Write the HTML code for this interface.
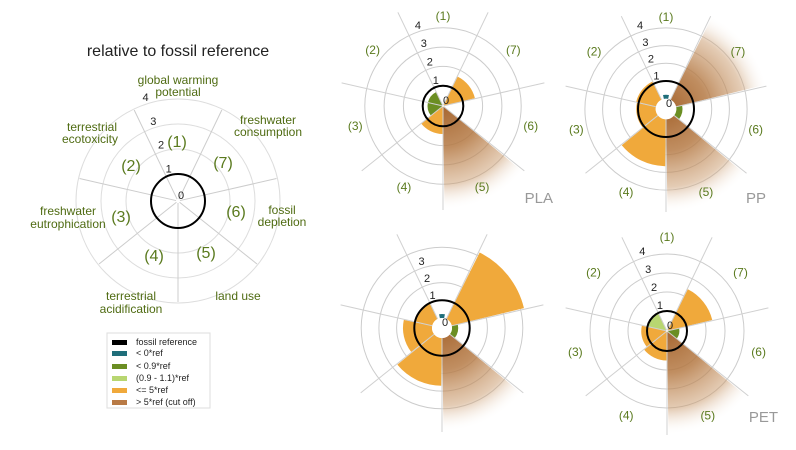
<!DOCTYPE html>
<html><head><meta charset="utf-8"><style>
body{margin:0;background:#fff;width:796px;height:450px;overflow:hidden}
svg{display:block;font-family:"Liberation Sans","DejaVu Sans",sans-serif}
</style></head><body>
<svg id="s" width="796" height="450" viewBox="0 0 796 450" xmlns="http://www.w3.org/2000/svg">
<defs></defs>
<g id="bg"></g>
<g fill="#4f6b12" font-size="12" text-anchor="middle">
<text x="178" y="56" font-size="16" fill="#222">relative to fossil reference</text>
<text x="178" y="84">global warming</text><text x="178" y="96">potential</text>
<text x="268" y="124">freshwater</text><text x="268" y="136">consumption</text>
<text x="92" y="131">terrestrial</text><text x="90" y="143">ecotoxicity</text>
<text x="68" y="215">freshwater</text><text x="68" y="228">eutrophication</text>
<text x="282" y="214">fossil</text><text x="282" y="226">depletion</text>
<text x="131" y="300">terrestrial</text><text x="131" y="313">acidification</text>
<text x="238" y="300">land use</text>
</g>
<g fill="#5a7a1e" font-size="16" text-anchor="middle">
<text x="177" y="147">(1)</text><text x="131" y="171">(2)</text><text x="121" y="222">(3)</text>
<text x="154" y="261">(4)</text><text x="206" y="258">(5)</text><text x="236" y="217">(6)</text><text x="223" y="168">(7)</text>
</g>
<g fill="#999" font-size="15" text-anchor="end">
<text x="553" y="203">PLA</text><text x="766" y="203">PP</text><text x="778" y="422">PET</text>
</g>
<g font-size="9" fill="#222">
<rect x="107" y="333" width="103" height="75" fill="#fff" stroke="#ddd"/>
<rect x="112" y="340" width="15" height="5" fill="#000"/><text x="136" y="345">fossil reference</text>
<rect x="112" y="351" width="15" height="5" fill="#1f6e7a"/><text x="136" y="356">&lt; 0*ref</text>
<rect x="112" y="364" width="15" height="5" fill="#6b8e23"/><text x="136" y="369">&lt; 0.9*ref</text>
<rect x="112" y="376" width="15" height="5" fill="#b8d671"/><text x="136" y="381">(0.9 - 1.1)*ref</text>
<rect x="112" y="388" width="15" height="5" fill="#f0a93b"/><text x="136" y="393">&lt;= 5*ref</text>
<rect x="112" y="400" width="15" height="5" fill="#b87a45"/><text x="136" y="405">&gt; 5*ref (cut off)</text>
</g>
<g id="fg"></g>
</svg>
<script>
var NS="http://www.w3.org/2000/svg",bg=document.getElementById('bg'),fg=document.getElementById('fg'),defs=document.querySelector('defs');
function el(p,t,a,txt){var e=document.createElementNS(NS,t);for(var k in a)e.setAttribute(k,a[k]);if(txt!=null)e.textContent=txt;p.appendChild(e);return e;}
var D=Math.PI/180,S=360/7;
function pt(cx,cy,r,a){return [cx+r*Math.sin(a*D),cy-r*Math.cos(a*D)];}
function sector(cx,cy,r0,r1,a0,a1){var p0=pt(cx,cy,r1,a0),p1=pt(cx,cy,r1,a1),q1=pt(cx,cy,r0,a1),q0=pt(cx,cy,r0,a0);
 return "M"+p0+" A"+r1+","+r1+" 0 0 1 "+p1+" L"+q1+(r0>0?" A"+r0+","+r0+" 0 0 0 "+q0:" L"+q0)+"Z";}
var COL={o:"#f0a93b",g:"#6b8e23",l:"#b8d671",t:"#1f6e7a"};
function ca(k){return -(k-1)*S;}
var P=[
 {cx:178,cy:201,h:2,u:25,sp:101,ticks:[0,1,2,3,4],bars:{},nums:false},
 {cx:443,cy:106,h:1,u:19.3,sp:104,ticks:[0,1,2,3,4],bars:{2:['g',.75],3:['g',.75],4:['o',1.4],5:['c'],7:['o',1.65]},nums:90},
 {cx:666,cy:109,h:10.3,u:17.7,sp:103,ticks:[0,1,2,3,4],bars:{1:['t',.25],2:['o',1.15],3:['o',1.1],4:['o',2.65],5:['c'],6:['g',.35],7:['c']},nums:92},
 {cx:442,cy:328,h:10,u:17.7,sp:104,ticks:[0,1,2,3],bars:{1:['t',.25],2:['o',1.05],3:['o',1.64],4:['o',2.7],5:['c'],6:['g',.35],7:['o',4.2]},nums:false},
 {cx:667,cy:331,h:1,u:19,sp:104,ticks:[0,1,2,3,4],bars:{2:['l',1],3:['o',1.3],4:['o',1.5],5:['c'],6:['g',.6],7:['o',2.4]},nums:94}
];
P.forEach(function(p,i){
 var g=el(defs,'radialGradient',{id:'gr'+i,gradientUnits:'userSpaceOnUse',cx:p.cx,cy:p.cy,r:104});
 el(g,'stop',{offset:0,'stop-color':'#a66630','stop-opacity':1});
 el(g,'stop',{offset:.4,'stop-color':'#b57a45','stop-opacity':.85});
 el(g,'stop',{offset:.75,'stop-color':'#c9996b','stop-opacity':.5});
 el(g,'stop',{offset:1,'stop-color':'#fff','stop-opacity':0});
 var lc=i==0?'#ddd':'#ccc';
 for(var k=1;k<=4;k++) el(bg,'circle',{cx:p.cx,cy:p.cy,r:p.h+k*p.u,fill:'none',stroke:lc,'stroke-width':1});
 for(var k in p.bars){var b=p.bars[k],c=ca(+k),a0=c-S/2+0.8,a1=c+S/2-0.8;
  if(b[0]=='c') el(bg,'path',{d:sector(p.cx,p.cy,p.h,104,a0,a1),fill:'url(#gr'+i+')'});
  else if(b[0]=='t') el(bg,'path',{d:sector(p.cx,p.cy,p.h,p.h+4,c-12,c+12),fill:COL.t});
  else el(bg,'path',{d:sector(p.cx,p.cy,p.h,p.h+b[1]*p.u,a0,a1),fill:COL[b[0]]});
 }
 for(var k=0;k<7;k++){var a=S/2+k*S,q0=pt(p.cx,p.cy,p.h,a),q1=pt(p.cx,p.cy,p.sp,a);
  el(bg,'line',{x1:q0[0],y1:q0[1],x2:q1[0],y2:q1[1],stroke:i==0?'#ccc':'#d0d0d0','stroke-width':1});}
 if(p.h>3) el(bg,'circle',{cx:p.cx,cy:p.cy,r:p.h,fill:'#fff'});
 el(fg,'circle',{cx:p.cx,cy:p.cy,r:p.h+p.u,fill:'none',stroke:'#000','stroke-width':2});
 p.ticks.forEach(function(t){var r=t==0?0:p.h+t*p.u+3,q=pt(p.cx,p.cy,r,-18);
  el(fg,'text',{x:t==0?p.cx+3:q[0],y:t==0?p.cy-2:q[1],'font-size':11,fill:'#222','text-anchor':'middle'},''+t);});
 if(p.nums) for(var k=1;k<=7;k++){var q=pt(p.cx,p.cy,p.nums,ca(k));
  el(fg,'text',{x:q[0],y:q[1]+4,'font-size':12,fill:'#5a7a1e','text-anchor':'middle'},'('+k+')');}
});
</script>
</body></html>
